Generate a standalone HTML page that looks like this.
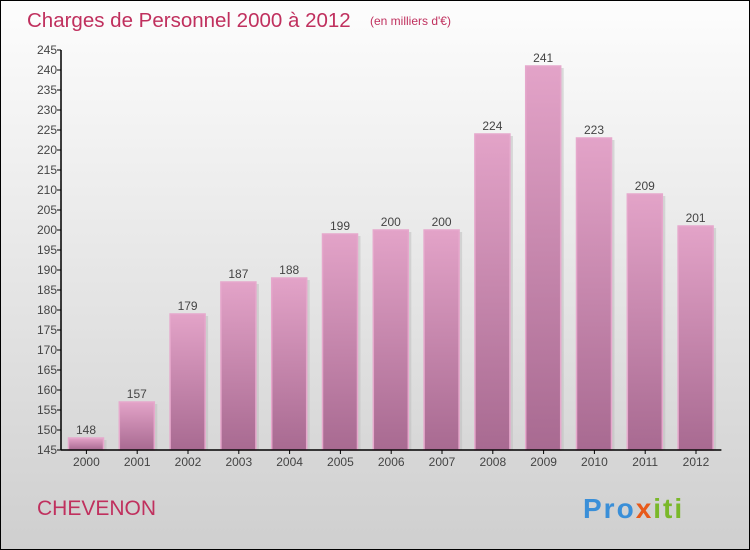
<!DOCTYPE html>
<html><head><meta charset="utf-8"><style>
body{margin:0}
#c{position:relative;width:748px;height:548px;border:1px solid #000;background:linear-gradient(#fdfdfd,#cfcfcf);font-family:"Liberation Sans",sans-serif;overflow:hidden}
</style></head><body>
<div id="c">
<svg width="748" height="548" style="position:absolute;left:0;top:0" id="s">
<defs><linearGradient id="g" x1="0" y1="0" x2="0" y2="1"><stop offset="0" stop-color="#e3a3c8"/><stop offset="1" stop-color="#a86a91"/></linearGradient></defs>
<text x="26" y="26" font-size="20.5" fill="#c0305e">Charges de Personnel 2000 à 2012</text>
<text x="369" y="24" font-size="12" fill="#c0305e">(en milliers d'€)</text>
<text x="36" y="514" font-size="21" fill="#c0305e">CHEVENON</text>
<text x="582" y="517" font-size="28" font-weight="bold" letter-spacing="2"><tspan fill="#3a8fd8">Pro</tspan><tspan fill="#e85a1a">x</tspan><tspan fill="#7ab82a">iti</tspan></text>
<g id="plot"></g>
</svg>
</div>
<script>
const years=["2000","2001","2002","2003","2004","2005","2006","2007","2008","2009","2010","2011","2012"];
const values=[148,157,179,187,188,199,200,200,224,241,223,209,201];
const yTicks=[145,150,155,160,165,170,175,180,185,190,195,200,205,210,215,220,225,230,235,240,245];
const ns="http://www.w3.org/2000/svg",p=document.getElementById('plot');
const X0=60,Y0=449,bw=50.8,ymin=145,ppu=4;
const y=v=>Y0-(v-ymin)*ppu, x=i=>X0+i*bw;
function mk(t,a){const e=document.createElementNS(ns,t);for(const k in a)e.setAttribute(k,a[k]);p.appendChild(e);return e;}
years.forEach((yr,i)=>{
 const bx=x(i)+7.5,top=y(values[i]);
 const sh=mk('rect',{x:bx+3,y:top+2,width:35,height:Y0-top-2,fill:'#bbb',opacity:.5});
 
 
 const r=mk('rect',{x:bx,y:top,width:35,height:Y0-top,fill:'url(#g)',stroke:'#e6a8cc','stroke-width':1.5});
 
 
 const t=mk('text',{x:bx+17.5,y:top-4,'text-anchor':'middle','font-size':12,fill:'#444'});t.textContent=values[i];
 
 
 const tk=mk('line',{x1:x(i)+bw/2,x2:x(i)+bw/2,y1:Y0,y2:Y0+4,stroke:'#000'});
 
 
 const l=mk('text',{x:x(i)+bw/2,y:Y0+16,'text-anchor':'middle','font-size':12,fill:'#444'});l.textContent=yr;
 
 
});
yTicks.forEach(v=>{
 const tk=mk('line',{x1:X0-4,x2:X0,y1:y(v),y2:y(v),stroke:'#000'});
 
 
 const l=mk('text',{x:X0-4,y:y(v)+4,'text-anchor':'end','font-size':12,fill:'#444'});l.textContent=v;
 
 
});
const ya=mk('line',{x1:X0,x2:X0,y1:y(245),y2:Y0,stroke:'#000','stroke-width':1.5});


const xa=mk('line',{x1:X0,x2:X0+13*bw,y1:Y0,y2:Y0,stroke:'#000','stroke-width':1.5});


</script>
</body></html>
